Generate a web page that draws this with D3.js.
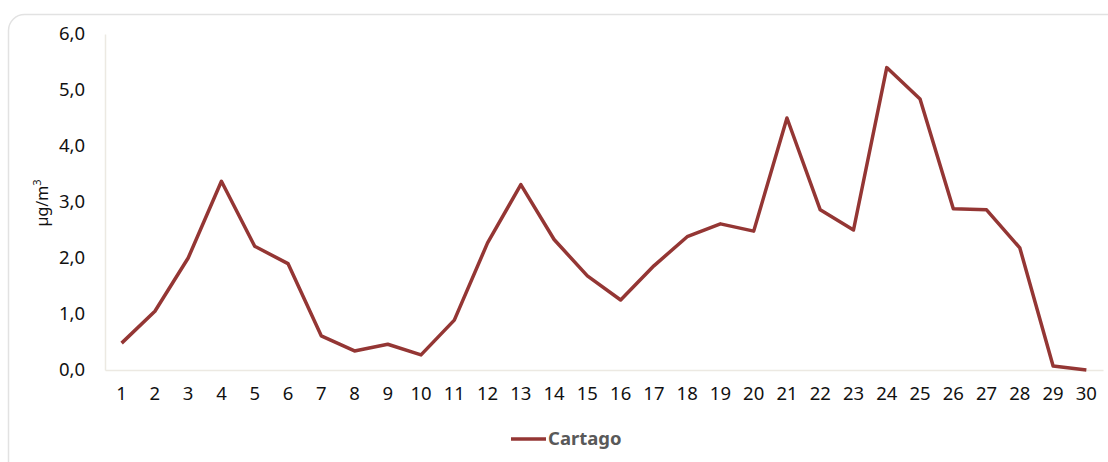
<!DOCTYPE html>
<html>
<head>
<meta charset="utf-8">
<script src="https://cdn.jsdelivr.net/npm/d3@7"></script>
<style>
  body { margin: 0; background: #fff; }
  svg { display: block; }
</style>
</head>
<body>
<div id="chart"></div>
<script>
const days = d3.range(1, 31).map(String);
const cartago = [0.48, 1.05, 2.0, 3.37, 2.21, 1.9, 0.61, 0.34, 0.46, 0.27,
                 0.89, 2.27, 3.31, 2.33, 1.68, 1.25, 1.86, 2.38, 2.61, 2.48,
                 4.5, 2.86, 2.5, 5.4, 4.84, 2.88, 2.86, 2.18, 0.07, 0.0];
const yTicks = [0, 1, 2, 3, 4, 5, 6];
const seriesName = 'Cartago';

const width = 1108;
const height = 462;
const margin = { top: 34, right: 5, bottom: 92, left: 105 };
const font = '"Noto Sans", "Open Sans", sans-serif';

const svg = d3.select('#chart')
  .append('svg')
  .attr('width', width)
  .attr('height', height)
  .attr('font-family', font);

// card frame
svg.append('rect')
  .attr('x', 8.5).attr('y', 14.5)
  .attr('width', width + 40).attr('height', height + 40)
  .attr('rx', 16)
  .attr('fill', '#fff')
  .attr('stroke', '#e2e2e2')
  .attr('stroke-width', 1.5);

const x = d3.scaleBand()
  .domain(days)
  .range([margin.left, width - margin.right]);

const y = d3.scaleLinear()
  .domain([0, 6])
  .range([height - margin.bottom, margin.top]);

const fmt = d => d3.format('.1f')(d).replace('.', ',');

// y axis
svg.append('g')
  .attr('transform', `translate(${margin.left},0)`)
  .call(d3.axisLeft(y).tickValues(yTicks).tickFormat(fmt).tickSize(0).tickPadding(20))
  .attr('font-family', font)
  .attr('font-size', '18.5px')
  .call(g => g.select('.domain').attr('stroke', '#ece9e2').attr('stroke-width', 1.5))
  .call(g => g.selectAll('text').attr('fill', '#111'));

// x axis
svg.append('g')
  .attr('transform', `translate(0,${y(0)})`)
  .call(d3.axisBottom(x).tickSize(0).tickPadding(17))
  .attr('font-family', font)
  .attr('font-size', '18.5px')
  .call(g => g.select('.domain').attr('stroke', '#ece9e2').attr('stroke-width', 1.5))
  .call(g => g.selectAll('text').attr('fill', '#111'));

// y label
svg.append('text')
  .attr('transform', `translate(48,203) rotate(-90)`)
  .attr('text-anchor', 'middle')
  .attr('font-size', '16px')
  .attr('fill', '#111')
  .html('µg/m<tspan dy="-7" font-size="11px">3</tspan>');

const line = d3.line()
  .x((d, i) => x(days[i]) + x.bandwidth() / 2)
  .y(d => y(d));

svg.append('path')
  .datum(cartago)
  .attr('fill', 'none')
  .attr('stroke', '#943634')
  .attr('stroke-width', 3.5)
  .attr('stroke-linejoin', 'round')
  .attr('d', line);

// legend
const lg = svg.append('g').attr('transform', 'translate(511,439)');
lg.append('line')
  .attr('x1', 0).attr('x2', 35)
  .attr('stroke', '#943634').attr('stroke-width', 3.5);
lg.append('text')
  .attr('x', 37).attr('dy', '0.35em')
  .attr('font-size', '18.5px')
  .attr('font-weight', 'bold')
  .attr('fill', '#595959')
  .text(seriesName);
</script>
</body>
</html>
